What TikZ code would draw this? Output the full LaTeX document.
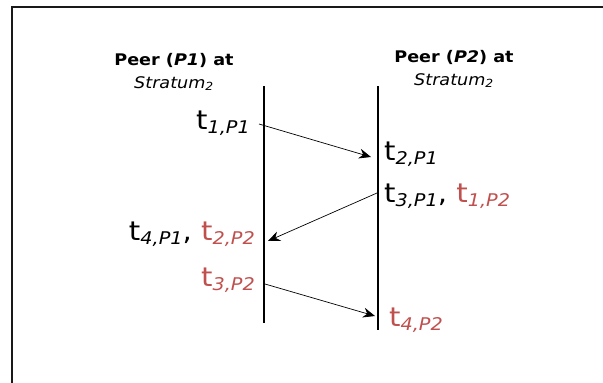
\documentclass[tikz,border=0pt]{standalone}
\usepackage{fontspec}
\setmainfont{DejaVu Sans}[FakeStretch=1.1]
\usetikzlibrary{arrows.meta}
\definecolor{tred}{RGB}{192,80,77}
\newcommand\tlab[2]{t\raisebox{-0.25ex}{\fontsize{17.5}{17.5}\selectfont\itshape #1,P#2}}
\tikzset{
  frame/.style={line width=1.4pt, black!90},
  lifeline/.style={line width=2pt},
  msg/.style={line width=0.7pt, -{Stealth[length=12pt,width=10pt,inset=4pt]}},
  head/.style={align=center, font=\fontsize{16}{23}\selectfont, inner sep=0pt},
  tl/.style={font=\fontsize{26.5}{28}\selectfont, inner sep=0pt},
}
\begin{document}
\begin{tikzpicture}[x=1pt,y=-1pt]
\useasboundingbox (0,0) rectangle (603,383);
\draw[frame] (12,383) -- (12,7) -- (603,7);
% headers
\node[head] (h1) at (174,72) {\textbf{Peer (\textit{P1}) at}\\\textit{Stratum\textsubscript{2}}};
\node[head] (h2) at (454,69) {\textbf{Peer (\textit{P2}) at}\\\textit{Stratum\textsubscript{2}}};
% lifelines
\coordinate (l1t) at (264,86);
\coordinate (l1b) at (264,323);
\coordinate (l2t) at (378,86);
\coordinate (l2b) at (378,330);
\draw[lifeline] (l1t) -- (l1b);
\draw[lifeline] (l2t) -- (l2b);
% labels
\node[tl, anchor=east] (t1) at (250,123) {\tlab{1}{1}};
\node[tl, anchor=west] (t2) at (384,154) {\tlab{2}{1}};
\node[tl, anchor=west] (t3) at (384,196) {\tlab{3}{1}, \textcolor{tred}{\tlab{1}{2}}};
\node[tl, anchor=east] (t4) at (255,234) {\tlab{4}{1}, \textcolor{tred}{\tlab{2}{2}}};
\node[tl, anchor=east, text=tred] (t5) at (255,280) {\tlab{3}{2}};
\node[tl, anchor=west, text=tred] (t6) at (389,320) {\tlab{4}{2}};
% messages
\coordinate (m1s) at (259,124);
\coordinate (m1e) at (371,157);
\coordinate (m2s) at (377,193);
\coordinate (m2e) at (268,241);
\coordinate (m3s) at (265,284);
\coordinate (m3e) at (375,316);
\draw[msg] (m1s) -- (m1e);
\draw[msg] (m2s) -- (m2e);
\draw[msg] (m3s) -- (m3e);
\end{tikzpicture}
\end{document}
